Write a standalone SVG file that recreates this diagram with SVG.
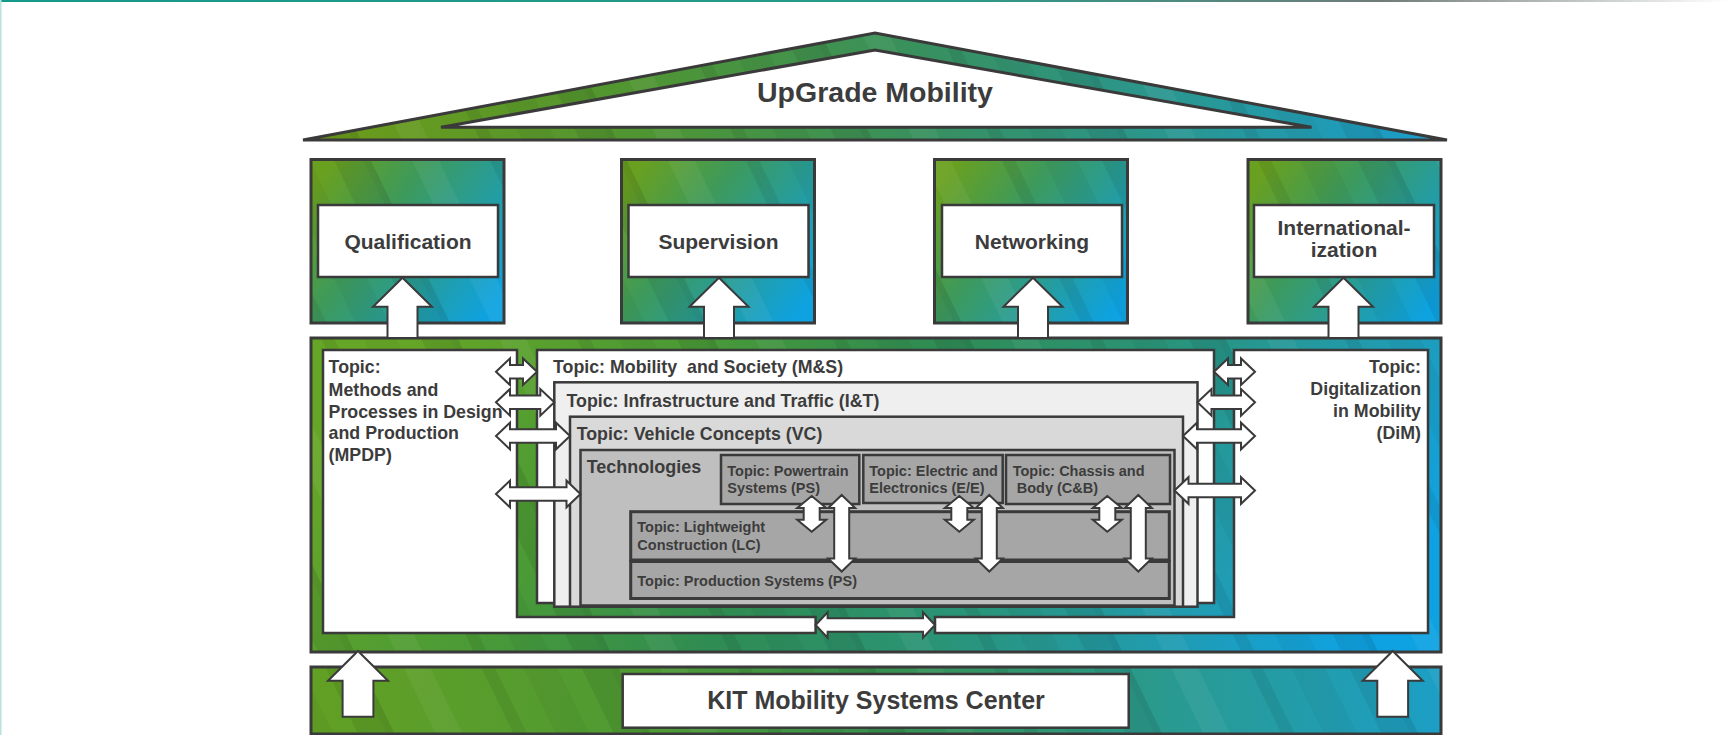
<svg xmlns="http://www.w3.org/2000/svg" width="1728" height="735" viewBox="0 0 1728 735">
<defs>
<linearGradient id="gRule" x1="0" y1="0" x2="1" y2="0">
<stop offset="0" stop-color="#14998a"/><stop offset="0.55" stop-color="#2a9a88"/><stop offset="0.8" stop-color="#707c7a"/><stop offset="1" stop-color="#ffffff"/>
</linearGradient>
<linearGradient id="gRoof" x1="0" y1="0.5" x2="1" y2="0.5">
<stop offset="0" stop-color="#6e9c18"/><stop offset="0.3" stop-color="#4f9533"/><stop offset="0.55" stop-color="#379060"/><stop offset="0.8" stop-color="#27989a"/><stop offset="1" stop-color="#1a9ed0"/>
</linearGradient>
<linearGradient id="gPillar" x1="0" y1="0.2" x2="1" y2="0.8">
<stop offset="0" stop-color="#69a020"/><stop offset="0.35" stop-color="#3e9a5a"/><stop offset="0.65" stop-color="#289c96"/><stop offset="1" stop-color="#0ea2e0"/>
</linearGradient>
<linearGradient id="gBand" x1="0" y1="0.4" x2="1" y2="0.6">
<stop offset="0" stop-color="#66a626"/><stop offset="0.25" stop-color="#4a9a36"/><stop offset="0.45" stop-color="#2f8c52"/><stop offset="0.65" stop-color="#2a9478"/><stop offset="0.85" stop-color="#209cb4"/><stop offset="1" stop-color="#0fa2e2"/>
</linearGradient>
<linearGradient id="gKit" x1="0" y1="0.5" x2="1" y2="0.5">
<stop offset="0" stop-color="#62a024"/><stop offset="0.3" stop-color="#4e9a34"/><stop offset="0.5" stop-color="#38904e"/><stop offset="0.75" stop-color="#2a9a8e"/><stop offset="1" stop-color="#1c9fc6"/>
</linearGradient>
<pattern id="streaks" patternUnits="userSpaceOnUse" width="230" height="900" patternTransform="rotate(-26)">
<rect x="0" y="0" width="26" height="900" fill="#000000" fill-opacity="0.07"/>
<rect x="26" y="0" width="7" height="900" fill="#000000" fill-opacity="0.1"/>
<rect x="70" y="0" width="24" height="900" fill="#ffffff" fill-opacity="0.05"/>
<rect x="140" y="0" width="12" height="900" fill="#000000" fill-opacity="0.07"/>
<rect x="178" y="0" width="30" height="900" fill="#000000" fill-opacity="0.04"/>
</pattern>
<style>
.frame{stroke:#3a3a3a;stroke-width:3;}
.tex{fill:url(#streaks);stroke:none;}
.box{stroke:#3a3a3a;stroke-width:2.5;}
.lbl{fill:#ffffff;stroke:#3a3a3a;stroke-width:2.5;}
.arr{fill:#ffffff;stroke:#3a3a3a;stroke-width:2;stroke-linejoin:miter;}
text{font-family:"Liberation Sans",Arial,sans-serif;font-weight:bold;fill:#3c3c3c;}
.big{font-size:21px;text-anchor:middle;}
.mid{font-size:17.8px;white-space:pre;}
.sm{font-size:14.5px;white-space:pre;}
</style>
</defs>

<g id="top-rule">
<rect x="0" y="0" width="1728" height="2" fill="url(#gRule)"/>
<rect x="0" y="0" width="1.5" height="735" fill="#b5e3de"/>
</g>

<g id="roof">
<polygon points="303,140 875,33 1447,140" fill="url(#gRoof)"/>
<polygon points="303,140 875,33 1447,140" class="tex"/>
<polygon points="303,140 875,33 1447,140" fill="none" class="frame"/>
<polygon points="441,127.3 875,50 1311.5,127.3" fill="#ffffff" class="frame"/>
<text x="875" y="102" style="font-size:28.5px" text-anchor="middle">UpGrade Mobility</text>
</g>

<g id="pillar-qualification">
<rect x="311" y="159.5" width="193" height="163.5" fill="url(#gPillar)"/>
<rect x="311" y="159.5" width="193" height="163.5" class="tex"/>
<rect x="311" y="159.5" width="193" height="163.5" fill="none" class="frame"/>
<rect x="318" y="205" width="180" height="72" class="lbl"/>
<text x="408" y="248.5" class="big">Qualification</text>
</g>
<g id="pillar-supervision">
<rect x="621.5" y="159.5" width="193" height="163.5" fill="url(#gPillar)"/>
<rect x="621.5" y="159.5" width="193" height="163.5" class="tex"/>
<rect x="621.5" y="159.5" width="193" height="163.5" fill="none" class="frame"/>
<rect x="628.5" y="205" width="180" height="72" class="lbl"/>
<text x="718.5" y="248.5" class="big">Supervision</text>
</g>
<g id="pillar-networking">
<rect x="934.5" y="159.5" width="193" height="163.5" fill="url(#gPillar)"/>
<rect x="934.5" y="159.5" width="193" height="163.5" class="tex"/>
<rect x="934.5" y="159.5" width="193" height="163.5" fill="none" class="frame"/>
<rect x="942" y="205" width="180" height="72" class="lbl"/>
<text x="1032" y="248.5" class="big">Networking</text>
</g>
<g id="pillar-internationalization">
<rect x="1248" y="159.5" width="193" height="163.5" fill="url(#gPillar)"/>
<rect x="1248" y="159.5" width="193" height="163.5" class="tex"/>
<rect x="1248" y="159.5" width="193" height="163.5" fill="none" class="frame"/>
<rect x="1254" y="205" width="180" height="72" class="lbl"/>
<text x="1344" y="235" class="big">International-</text>
<text x="1344" y="256.7" class="big">ization</text>
</g>

<g id="topics-band">
<rect x="311" y="338" width="1130" height="314" fill="url(#gBand)"/>
<rect x="311" y="338" width="1130" height="314" class="tex"/>
<rect x="311" y="338" width="1130" height="314" fill="none" class="frame"/>
</g>
<g id="topic-mpdp">
<path d="M323,350 H517 V617 H815.6 V633 H323 Z" fill="#ffffff" class="box"/>
<text class="mid" x="328.6" y="373.3">Topic:</text>
<text class="mid" x="328.6" y="395.5">Methods and</text>
<text class="mid" x="328.6" y="417.5">Processes in Design</text>
<text class="mid" x="328.6" y="439.3">and Production</text>
<text class="mid" x="328.6" y="461">(MPDP)</text>
</g>
<g id="topic-dim">
<path d="M1234,350 H1428 V633 H935 V617 H1234 Z" fill="#ffffff" class="box"/>
<text class="mid" x="1421" y="373.3" text-anchor="end">Topic:</text>
<text class="mid" x="1421" y="395" text-anchor="end">Digitalization</text>
<text class="mid" x="1421" y="416.7" text-anchor="end">in Mobility</text>
<text class="mid" x="1421" y="439" text-anchor="end">(DiM)</text>
</g>
<g id="topic-ms">
<rect x="537" y="350" width="677" height="253" fill="#ffffff" class="box"/>
<text class="mid" x="553" y="373.3">Topic: Mobility  and Society (M&amp;S)</text>
</g>
<g id="topic-it">
<rect x="554.3" y="382.3" width="643.2" height="224.4" fill="#efefef" class="box"/>
<text class="mid" x="566.5" y="406.7">Topic: Infrastructure and Traffic (I&amp;T)</text>
</g>
<g id="topic-vc">
<rect x="570" y="416.7" width="613" height="190" fill="#d9d9d9" class="box"/>
<text class="mid" x="576.7" y="440">Topic: Vehicle Concepts (VC)</text>
</g>
<g id="technologies">
<rect x="580.5" y="450" width="594" height="155.5" fill="#bfbfbf" class="box"/>
<text class="mid" x="586.7" y="473.3" style="font-size:18px">Technologies</text>
</g>
<g id="topic-powertrain">
<rect x="721" y="455" width="138.3" height="49" fill="#a6a6a6" class="box"/>
<text class="sm" x="727.3" y="475.7">Topic: Powertrain</text>
<text class="sm" x="727.3" y="493.3">Systems (PS)</text>
</g>
<g id="topic-ee">
<rect x="863.3" y="455" width="139.4" height="48" fill="#a6a6a6" class="box"/>
<text class="sm" x="869.3" y="475.7">Topic: Electric and</text>
<text class="sm" x="869.3" y="493.3">Electronics (E/E)</text>
</g>
<g id="topic-cb">
<rect x="1006" y="455" width="164" height="49" fill="#a6a6a6" class="box"/>
<text class="sm" x="1012.7" y="475.7">Topic: Chassis and</text>
<text class="sm" x="1012.7" y="493.3"> Body (C&amp;B)</text>
</g>
<g id="topic-lc">
<rect x="630.7" y="511.7" width="538.6" height="48.3" fill="#a6a6a6" class="box" style="stroke-width:3"/>
<text class="sm" x="637.3" y="532.3">Topic: Lightweight</text>
<text class="sm" x="637.3" y="550">Construction (LC)</text>
</g>
<g id="topic-ps">
<rect x="630.7" y="561.5" width="538.6" height="37" fill="#a6a6a6" class="box" style="stroke-width:3"/>
<text class="sm" x="637.3" y="585.7">Topic: Production Systems (PS)</text>
</g>

<g id="kit-center">
<rect x="311" y="667" width="1130" height="67" fill="url(#gKit)"/>
<rect x="311" y="667" width="1130" height="67" class="tex"/>
<rect x="311" y="667" width="1130" height="67" fill="none" class="frame"/>
<rect x="622.7" y="674" width="506" height="53.7" class="lbl"/>
<text x="876" y="708.5" style="font-size:25px" text-anchor="middle">KIT Mobility Systems Center</text>
</g>

<g id="connectors">
<polygon class="arr" points="402.5,277.7 432,306.7 417.5,306.7 417.5,338 387.5,338 387.5,306.7 373,306.7"/>
<polygon class="arr" points="719,277.7 748.5,306.7 734,306.7 734,338 704,338 704,306.7 689.5,306.7"/>
<polygon class="arr" points="1033,277.7 1062.5,306.7 1048,306.7 1048,338 1018,338 1018,306.7 1003.5,306.7"/>
<polygon class="arr" points="1343.5,277.7 1373,306.7 1358.5,306.7 1358.5,338 1328.5,338 1328.5,306.7 1314,306.7"/>
<polygon class="arr" points="358,651 388,680.7 373.4,680.7 373.4,716.7 342.6,716.7 342.6,680.7 328,680.7"/>
<polygon class="arr" points="1392.7,651 1422.7,680.7 1408.1,680.7 1408.1,716.7 1377.3,716.7 1377.3,680.7 1362.7,680.7"/>
<polygon class="arr" points="496,371.7 510,358.4 510,365 523,365 523,358.4 537,371.7 523,385 523,378.4 510,378.4 510,385"/>
<polygon class="arr" points="496,402.3 510,389 510,395.6 540.3,395.6 540.3,389 554.3,402.3 540.3,415.6 540.3,409 510,409 510,415.6"/>
<polygon class="arr" points="496,436 510,422.7 510,429.3 556,429.3 556,422.7 570,436 556,449.3 556,442.7 510,442.7 510,449.3"/>
<polygon class="arr" points="496,494 510,480.7 510,487.3 566.5,487.3 566.5,480.7 580.5,494 566.5,507.3 566.5,500.7 510,500.7 510,507.3"/>
<polygon class="arr" points="1214,371.7 1228,358.4 1228,365 1241,365 1241,358.4 1255,371.7 1241,385 1241,378.4 1228,378.4 1228,385"/>
<polygon class="arr" points="1197.5,402.3 1211.5,389 1211.5,395.6 1241,395.6 1241,389 1255,402.3 1241,415.6 1241,409 1211.5,409 1211.5,415.6"/>
<polygon class="arr" points="1183,436 1197,422.7 1197,429.3 1241,429.3 1241,422.7 1255,436 1241,449.3 1241,442.7 1197,442.7 1197,449.3"/>
<polygon class="arr" points="1174.5,490.5 1188.5,477.2 1188.5,483.8 1241,483.8 1241,477.2 1255,490.5 1241,503.8 1241,497.2 1188.5,497.2 1188.5,503.8"/>
<polygon class="arr" points="815.6,625 827.6,612.2 827.6,618.2 923,618.2 923,612.2 935,625 923,637.8 923,631.8 827.6,631.8 827.6,637.8"/>
<polygon class="arr" points="811.7,496 826.2,508 819.7,508 819.7,519.7 826.2,519.7 811.7,531.7 797.2,519.7 803.7,519.7 803.7,508 797.2,508"/>
<polygon class="arr" points="959.3,496 973.8,508 967.3,508 967.3,519.7 973.8,519.7 959.3,531.7 944.8,519.7 951.3,519.7 951.3,508 944.8,508"/>
<polygon class="arr" points="1107.3,496 1121.8,508 1115.3,508 1115.3,519.7 1121.8,519.7 1107.3,531.7 1092.8,519.7 1099.3,519.7 1099.3,508 1092.8,508"/>
<polygon class="arr" points="841.7,495 855.2,508 849.2,508 849.2,558.5 855.2,558.5 841.7,571.5 828.2,558.5 834.2,558.5 834.2,508 828.2,508"/>
<polygon class="arr" points="989.3,495 1002.8,508 996.8,508 996.8,558.5 1002.8,558.5 989.3,571.5 975.8,558.5 981.8,558.5 981.8,508 975.8,508"/>
<polygon class="arr" points="1138.3,495 1151.8,508 1145.8,508 1145.8,558.5 1151.8,558.5 1138.3,571.5 1124.8,558.5 1130.8,558.5 1130.8,508 1124.8,508"/>
</g>
</svg>
